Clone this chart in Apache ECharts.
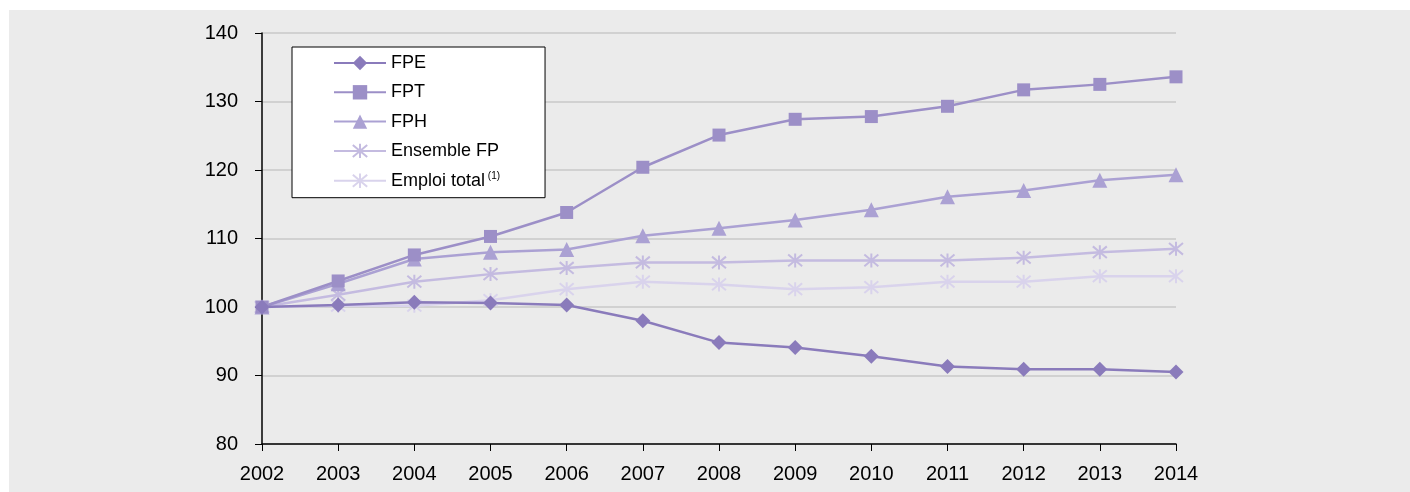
<!DOCTYPE html>
<html>
<head>
<meta charset="utf-8">
<script src="https://cdn.jsdelivr.net/npm/echarts@6/dist/echarts.min.js"></script>
<style>
  html, body { margin: 0; padding: 0; background: #fff; }
  #chart { width: 1410px; height: 492px; }
</style>
</head>
<body>
<div id="chart"></div>
<script>
// données (indice base 100 en 2002)
const years = ['2002', '2003', '2004', '2005', '2006', '2007', '2008', '2009', '2010', '2011', '2012', '2013', '2014']
const fpe = [100, 100.3, 100.7, 100.6, 100.3, 98.0, 94.8, 94.1, 92.8, 91.3, 90.9, 90.9, 90.5]
const fpt = [100, 103.8, 107.6, 110.3, 113.8, 120.4, 125.1, 127.4, 127.8, 129.3, 131.7, 132.5, 133.6]
const fph = [100, 103.4, 107.0, 108.0, 108.4, 110.4, 111.5, 112.7, 114.2, 116.1, 117.0, 118.5, 119.3]
const ensembleFP = [100, 101.8, 103.7, 104.8, 105.7, 106.5, 106.5, 106.8, 106.8, 106.8, 107.2, 108.0, 108.5]
const emploiTotal = [100, 100.2, 100.2, 101.0, 102.6, 103.7, 103.3, 102.6, 102.9, 103.7, 103.7, 104.5, 104.5]
const yTicks = [80, 90, 100, 110, 120, 130, 140]

// étoile (x + barre verticale), dessinée en trait
const starPath = 'path://M0,0 L10,10 M10,0 L0,10 M5,-1 L5,11'

const chart = echarts.init(document.getElementById('chart'))

function serie (name, data, color, symbol, size) {
  const isStar = symbol === starPath
  return {
    name: name,
    type: 'line',
    data: data,
    symbol: symbol,
    symbolSize: size,
    showSymbol: true,
    lineStyle: { color: color, width: 2.5 },
    itemStyle: isStar
      ? { color: color, borderColor: color, borderWidth: 2 }
      : { color: color, borderWidth: 0 },
    emphasis: { disabled: true },
    animation: false
  }
}

const options = {
  backgroundColor: '#ffffff',
  textStyle: { fontFamily: 'Liberation Sans, Arial, sans-serif' },
  graphic: [
    {
      type: 'rect',
      z: -10,
      shape: { x: 9, y: 10, width: 1401, height: 482 },
      style: { fill: '#ebebeb' }
    }
  ],
  grid: { left: 262, right: 234, top: 33, bottom: 48 },
  legend: {
    orient: 'vertical',
    left: 292,
    top: 47,
    backgroundColor: '#ffffff',
    borderColor: '#000000',
    borderWidth: 1,
    borderRadius: 0,
    padding: [7, 45, 8, 41],
    itemWidth: 52,
    itemHeight: 18,
    itemGap: 11.3,
    textStyle: {
      fontSize: 18,
      color: '#000',
      rich: {
        sup: { fontSize: 10, verticalAlign: 'top', padding: [0, 0, 9, 0], color: '#000' }
      }
    },
    formatter: function (name) {
      if (name === 'Emploi total') return name + '{sup| (1)}'
      return name
    },
    data: ['FPE', 'FPT', 'FPH', 'Ensemble FP', 'Emploi total']
  },
  xAxis: {
    type: 'category',
    data: years,
    boundaryGap: false,
    axisLine: { lineStyle: { color: '#000', width: 1.5 } },
    axisTick: { show: true, length: 7, lineStyle: { color: '#000' } },
    axisLabel: { color: '#000', fontSize: 20, margin: 20 },
    splitLine: { show: false }
  },
  yAxis: {
    type: 'value',
    min: yTicks[0],
    max: yTicks[yTicks.length - 1],
    interval: 10,
    axisLine: { show: true, lineStyle: { color: '#000', width: 1.5 } },
    axisTick: { show: true, length: 7, lineStyle: { color: '#000' } },
    axisLabel: { color: '#000', fontSize: 20, margin: 24 },
    splitLine: { show: true, lineStyle: { color: '#c8c8c8', width: 1.5 } }
  },
  series: [
    serie('Emploi total', emploiTotal, '#d9d3ec', starPath, 14),
    serie('Ensemble FP', ensembleFP, '#c4bbe0', starPath, 14),
    serie('FPH', fph, '#aba1d3', 'triangle', 15),
    serie('FPT', fpt, '#9c8fc7', 'rect', 13),
    serie('FPE', fpe, '#8a7bbb', 'diamond', 15)
  ]
}

chart.setOption(options)
</script>
</body>
</html>
